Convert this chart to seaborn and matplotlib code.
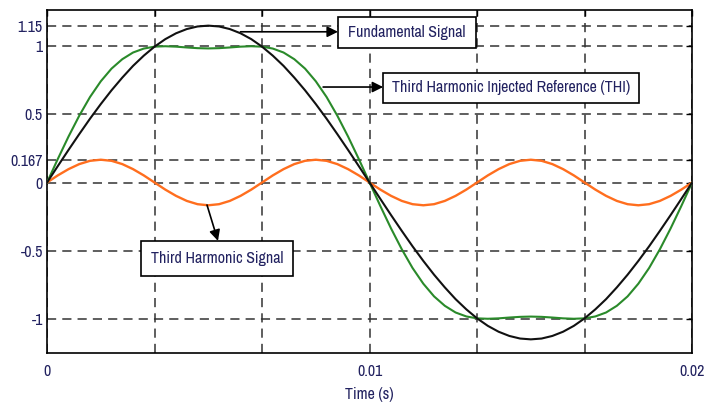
import numpy as np
import pandas as pd
import matplotlib
matplotlib.use('Agg')
import matplotlib.pyplot as plt
from matplotlib.patches import Rectangle
from matplotlib import font_manager as fm
import seaborn as sns

# one period of 50 Hz, sampled every 6 degrees (61 points)
time_s = np.linspace(0, 0.02, 61)

fundamental = [0.000, 0.120, 0.239, 0.355, 0.468, 0.575, 0.676, 0.769, 0.855, 0.930,
               0.996, 1.051, 1.094, 1.125, 1.144, 1.150, 1.144, 1.125, 1.094, 1.051,
               0.996, 0.930, 0.855, 0.769, 0.676, 0.575, 0.468, 0.355, 0.239, 0.120,
               0.000, -0.120, -0.239, -0.355, -0.468, -0.575, -0.676, -0.769, -0.855, -0.930,
               -0.996, -1.051, -1.094, -1.125, -1.144, -1.150, -1.144, -1.125, -1.094, -1.051,
               -0.996, -0.930, -0.855, -0.769, -0.676, -0.575, -0.468, -0.355, -0.239, -0.120,
               0.000]

third_harmonic = [0.000, 0.052, 0.098, 0.135, 0.159, 0.167, 0.159, 0.135, 0.098, 0.052,
                  0.000, -0.052, -0.098, -0.135, -0.159, -0.167, -0.159, -0.135, -0.098, -0.052,
                  0.000, 0.052, 0.098, 0.135, 0.159, 0.167, 0.159, 0.135, 0.098, 0.052,
                  0.000, -0.052, -0.098, -0.135, -0.159, -0.167, -0.159, -0.135, -0.098, -0.052,
                  0.000, 0.052, 0.098, 0.135, 0.159, 0.167, 0.159, 0.135, 0.098, 0.052,
                  0.000, -0.052, -0.098, -0.135, -0.159, -0.167, -0.159, -0.135, -0.098, -0.052,
                  0.000]

thi_reference = [0.000, 0.172, 0.337, 0.490, 0.627, 0.742, 0.835, 0.904, 0.953, 0.982,
                 0.996, 0.999, 0.996, 0.990, 0.985, 0.983, 0.985, 0.990, 0.996, 0.999,
                 0.996, 0.982, 0.953, 0.904, 0.835, 0.742, 0.627, 0.490, 0.337, 0.172,
                 0.000, -0.172, -0.337, -0.490, -0.627, -0.742, -0.835, -0.904, -0.953, -0.982,
                 -0.996, -0.999, -0.996, -0.990, -0.985, -0.983, -0.985, -0.990, -0.996, -0.999,
                 -0.996, -0.982, -0.953, -0.904, -0.835, -0.742, -0.627, -0.490, -0.337, -0.172,
                 0.000]

x_ticks = [0, 0.02 / 6, 0.02 / 3, 0.01, 0.04 / 3, 0.05 / 3, 0.02]
x_tick_labels = ['0', '', '', '0.01', '', '', '0.02']
y_ticks = [-1, -0.5, 0, 0.167, 0.5, 1, 1.15]
y_tick_labels = ['-1', '-0.5', '0', '0.167', '0.5', '1', '1.15']

df = pd.DataFrame({'t': time_s, 'fund': fundamental,
                   'third': third_harmonic, 'thi': thi_reference})

sns.set_style('white')

# the reference uses a narrow sans; take one if installed, else plain Liberation Sans
fonts = fm.fontManager.ttflist
narrow = [f.name for f in fonts if 'Narrow' in f.name or 'Condensed' in f.name]
cond_dejavu = [f for f in fonts if f.name == 'DejaVu Sans' and
               str(f.stretch) in ('condensed', 'semi-condensed', '700', '600')]
fstretch = 'normal'
if 'Liberation Sans Narrow' in narrow:
    family, fsize = 'Liberation Sans Narrow', 11.5
elif narrow:
    family, fsize = narrow[0], 11.5
elif cond_dejavu:
    family, fsize, fstretch = 'DejaVu Sans', 10.0, 'condensed'
else:
    family, fsize = 'Liberation Sans', 9.6
plt.rcParams['font.family'] = [family, 'DejaVu Sans']
plt.rcParams['font.stretch'] = fstretch
txt_col = '#222260'

fig = plt.figure(figsize=(7.05, 4.05), dpi=100)
ax = fig.add_axes([0.0667, 0.1284, 0.915, 0.847])

sns.lineplot(data=df, x='t', y='third', color='#ff6e1e', linewidth=1.7, ax=ax, zorder=3)
sns.lineplot(data=df, x='t', y='thi', color='#2a8a2a', linewidth=1.5, ax=ax, zorder=3)
sns.lineplot(data=df, x='t', y='fund', color='#111111', linewidth=1.5, ax=ax, zorder=3)

ax.set_xlim(0, 0.02)
ax.set_ylim(-1.25, 1.265)
ax.set_xticks(x_ticks)
ax.set_xticklabels(x_tick_labels)
ax.set_yticks(y_ticks)
ax.set_yticklabels(y_tick_labels)
ax.grid(True, linestyle=(0, (6, 4)), color='#333333', linewidth=1.1, zorder=1)
ax.set_axisbelow(True)
ax.tick_params(direction='in', top=True, right=True, length=4, width=1,
               labelsize=fsize, labelcolor=txt_col, colors='black')
ax.tick_params(axis='x', pad=8)
ax.tick_params(axis='y', pad=3)
for sp in ax.spines.values():
    sp.set_color('black')
    sp.set_linewidth(1.2)
ax.set_xlabel('Time (s)', fontsize=fsize, color=txt_col, labelpad=6)
ax.set_ylabel('')

# annotation boxes
boxes = [((0.00902, 0.988), 0.00428, 0.227, 'Fundamental Signal'),
         ((0.01042, 0.584), 0.00794, 0.220, 'Third Harmonic Injected Reference (THI)'),
         ((0.00291, -0.684), 0.00472, 0.256, 'Third Harmonic Signal')]
for (bx, by), bw, bh, label in boxes:
    ax.add_patch(Rectangle((bx, by), bw, bh, facecolor='white', edgecolor='black',
                           linewidth=1.2, zorder=5))
    ax.text(bx + bw / 2, by + bh / 2, label, ha='center', va='center',
            fontsize=fsize, color=txt_col, zorder=6)

arrow = dict(arrowstyle='-|>', color='black', lw=1.2, mutation_scale=16,
             shrinkA=0, shrinkB=0)
ax.annotate('', xy=(0.00902, 1.105), xytext=(0.0060, 1.105), arrowprops=arrow, zorder=7)
ax.annotate('', xy=(0.01042, 0.70), xytext=(0.00856, 0.70), arrowprops=arrow, zorder=7)
ax.annotate('', xy=(0.0053, -0.428), xytext=(0.00496, -0.165), arrowprops=arrow, zorder=7)

fig.savefig('out.png', dpi=100)
